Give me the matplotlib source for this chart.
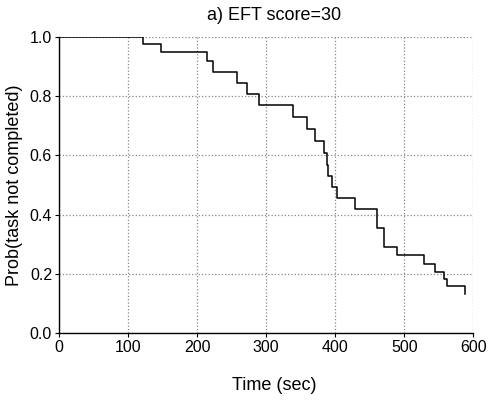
import matplotlib
matplotlib.use("Agg")
import matplotlib.pyplot as plt

plt.rcParams['font.family'] = ['Liberation Sans', 'DejaVu Sans']

# Kaplan-Meier style step curve (time in sec, prob after each step)
tempo = [0, 121, 148, 215, 223, 258, 272, 289, 339, 359, 371, 384, 388, 389,
         396, 403, 429, 461, 471, 490, 529, 545, 558, 562, 588]
prob = [1.0, 0.975, 0.949, 0.919, 0.882, 0.844, 0.807, 0.770, 0.730, 0.688,
        0.649, 0.609, 0.567, 0.530, 0.492, 0.455, 0.420, 0.356, 0.292, 0.263,
        0.233, 0.207, 0.183, 0.158, 0.133]

xticks = [0, 100, 200, 300, 400, 500, 600]
yticks = [0.0, 0.2, 0.4, 0.6, 0.8, 1.0]

fig = plt.figure(figsize=(4.9, 4.0), dpi=100)
ax = fig.add_axes([0.1204, 0.1667, 0.8456, 0.7416])

ax.plot(tempo, prob, drawstyle="steps-post", color="black", linewidth=1.1)

ax.set_xlim(0, 600)
ax.set_ylim(0, 1.0)
ax.set_xticks(xticks)
ax.set_yticks(yticks)
ax.set_yticklabels(["%.1f" % v for v in yticks])
ax.tick_params(direction="out", length=3, width=0.8, pad=2, labelsize=11.5)

ax.grid(True, linestyle=":", color="#888888", linewidth=0.9)
ax.set_axisbelow(True)
for s in ["top", "right"]:
    ax.spines[s].set_visible(False)
for s in ["left", "bottom"]:
    ax.spines[s].set_linewidth(1.0)

ax.set_xlabel("Time (sec)", fontsize=13, labelpad=16)
ax.xaxis.label.set_x(0.52)
ax.set_ylabel("Prob(task not completed)", fontsize=13, labelpad=5)
ax.set_title("a) EFT score=30", fontsize=13, pad=12, x=0.52)

fig.savefig("out.png", dpi=100)
